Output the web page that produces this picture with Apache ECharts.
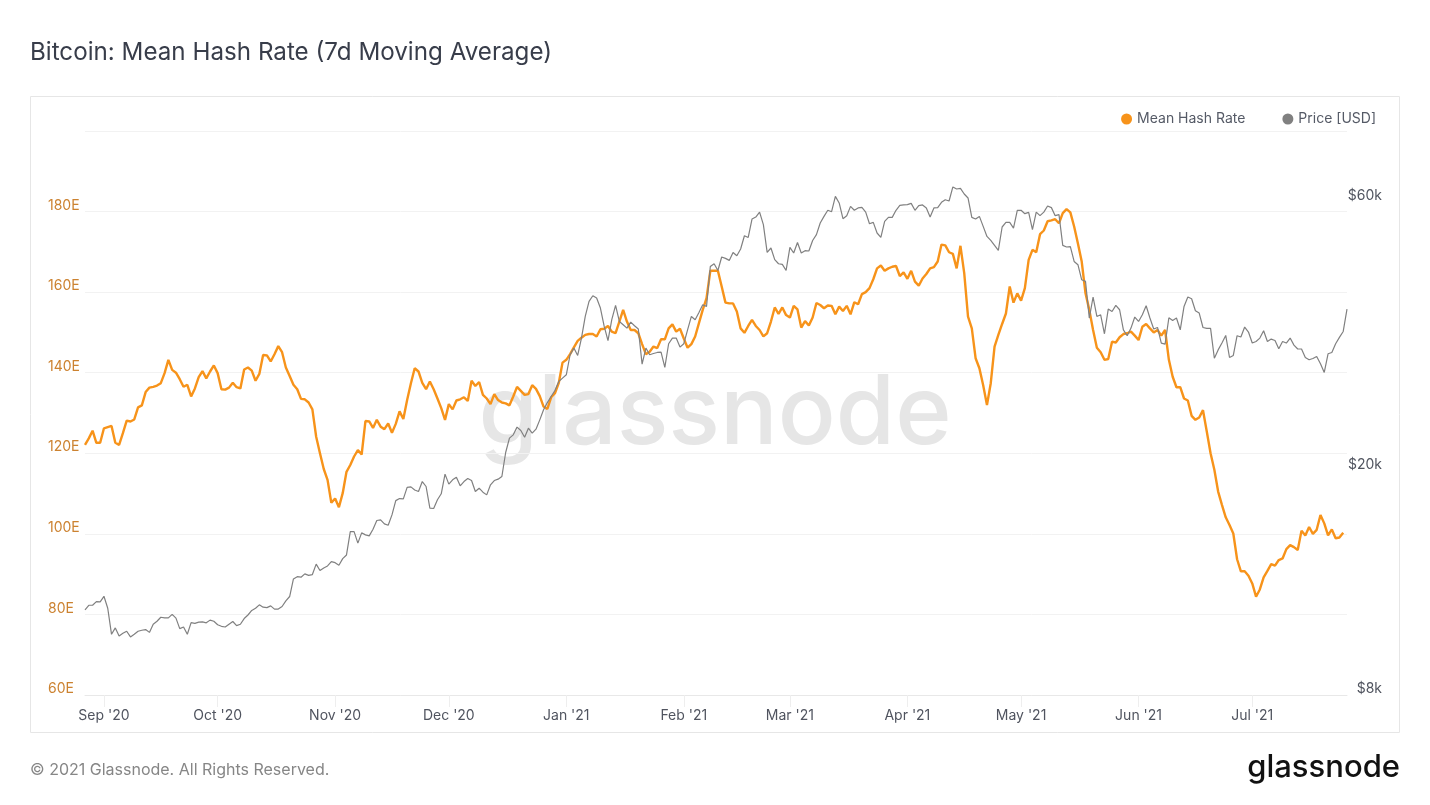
<!DOCTYPE html>
<html>
<head>
<meta charset="utf-8">
<title>Bitcoin: Mean Hash Rate (7d Moving Average)</title>
<script src="https://cdn.jsdelivr.net/npm/echarts@6/dist/echarts.min.js"></script>
<style>
  html, body { margin: 0; padding: 0; background: #fff; }
  #chart { width: 1430px; height: 805px; }
</style>
</head>
<body>
<div id="chart"></div>
<script>
// daily values, first point is startDate
const startDate = '2020-08-27';

const hashRate = [
  122.1,123.7,125.6,122.6,122.6,126.2,126.5,126.8,122.6,122.1,125.0,128.1,127.9,128.4,131.4,131.9,135.2,136.3,136.5,136.8,
  137.4,139.9,143.2,140.7,140.0,138.4,136.5,137.0,134.1,136.1,138.9,140.4,138.6,140.3,141.8,139.9,135.9,135.8,136.3,137.5,
  136.4,136.1,140.8,141.3,140.5,138.0,139.7,144.4,144.3,142.8,144.6,146.6,145.1,141.3,139.2,137.0,135.9,133.5,133.4,132.6,
  130.9,124.1,120.0,116.1,113.4,107.7,108.8,106.6,110.1,115.4,117.1,119.2,120.8,119.7,128.0,127.9,126.3,128.3,126.6,126.0,
  127.4,125.1,127.3,130.4,128.5,133.2,137.4,141.1,140.3,137.5,135.9,137.8,
  135.9,133.6,131.2,128.3,132.2,130.9,133.1,133.4,133.9,133.0,138.0,136.7,137.7,134.5,133.6,132.2,134.7,133.2,132.6,132.4,
  131.9,134.1,136.5,135.5,134.5,134.7,136.9,136.0,134.2,131.6,131.0,133.9,134.9,137.4,142.5,143.2,144.6,146.3,147.9,148.7,
  149.4,149.6,149.6,149.0,150.8,150.9,151.6,150.2,149.8,152.7,155.6,152.7,150.6,150.6,149.8,147.1,144.6,145.2,146.5,146.1,
  148.3,148.3,151.0,152.0,150.2,150.9,148.5,146.2,147.1,149.0,152.3,155.6,158.5,165.3,165.3,165.3,161.4,157.4,157.2,157.2,
  155.2,151.0,
  149.9,151.6,153.1,151.6,150.6,149.0,149.8,152.7,156.2,154.6,156.2,154.3,153.7,156.6,155.7,151.2,152.8,151.7,153.7,157.3,
  156.8,156.0,156.7,156.6,154.5,156.4,155.3,156.6,154.5,157.5,157.0,159.5,160.0,161.0,163.2,165.9,166.6,165.3,165.9,166.3,
  166.5,164.0,164.9,163.3,165.3,162.6,161.6,163.4,164.5,165.9,166.2,167.6,171.8,171.6,169.9,169.5,165.9,171.5,164.7,153.9,
  151.0,143.6,141.1,
  136.9,132.0,137.4,146.5,149.4,152.1,154.7,161.4,157.4,159.7,157.9,161.0,168.0,170.5,169.9,174.4,175.3,177.6,177.8,178.1,
  177.1,179.6,180.6,179.8,176.3,172.1,167.6,159.7,155.6,150.6,146.2,145.1,143.2,143.4,147.7,147.5,148.8,149.6,149.8,150.2,
  149.2,148.1,151.4,152.1,151.0,150.0,150.6,149.2,150.6,143.2,139.0,136.4,136.4,133.6,133.1,129.3,128.3,128.9,130.7,
  125.4,120.0,115.9,110.5,107.2,104.1,102.2,100.1,93.7,90.7,90.7,89.6,87.7,84.4,86.2,89.2,90.8,92.5,92.1,93.5,
  93.9,96.2,97.2,96.7,96.0,100.8,99.6,101.7,100.0,101.0,104.7,102.6,99.6,101.1,98.9,99.1,100.3
];

const priceUsd = [
  11320,11540,11540,11710,11700,11970,11400,10250,10520,10180,10290,10380,10140,10250,10380,10420,10450,10330,10680,10810,
  10990,10960,10960,11120,10950,10490,10560,10250,10750,10720,10770,10780,10740,10860,10810,10660,10590,10560,10680,10800,
  10620,10680,10930,11090,11300,11400,11560,11450,11430,11510,11360,11360,11480,11750,11960,12850,12970,12940,13120,13040,
  13080,13650,13300,13440,13550,13790,13730,13590,13960,14170,15590,15590,14870,15510,15380,15320,15740,16310,16350,16090,
  16000,16690,17690,17840,17820,18670,18710,18470,18360,19120,18740,17150,17130,17750,18190,19710,18920,19260,19470,18790,
  19120,19360,19200,18360,18610,18310,18110,18870,19200,19310,19520,21530,22830,23140,23880,23550,22920,23780,23300,23680,
  24600,25630,26400,27060,27730,28770,29170,29570,32090,32980,32000,34350,37520,39900,40830,40450,38830,36020,33990,37030,
  39250,36760,36270,35780,36670,36120,35640,30890,32980,32090,32260,32390,32440,30470,33560,34350,34350,33110,33560,35530,
  37520,37030,38140,39360,39090,46000,46530,45270,47830,47560,47170,48730,48080,49410,52170,51800,55850,56310,57460,54570,
  48730,49620,47310,46530,46400,45270,49740,48610,50760,48610,49070,49010,51170,52390,54950,56450,57880,57540,61260,59630,
  55930,56620,58810,57880,58440,58580,57460,54790,55080,52750,51800,55310,56220,56220,57880,59050,59150,59220,59530,57880,
  58980,59150,58440,56310,58440,58510,59780,60430,60110,63660,63140,63290,61860,60860,56220,55850,56450,54200,52020,51170,
  50150,49140,54060,55080,55080,53830,57880,57880,57080,57390,53460,57460,56620,57460,58910,58510,56620,56850,50150,49820,
  49880,46970,46350,43580,43290,37280,40620,37520,37780,34960,38670,38290,39250,38560,35530,34680,35780,37430,36760,37780,
  39200,37280,35640,35870,33660,33520,37320,36920,37280,35530,39090,40620,40340,38400,38040,35870,35730,35730,31630,32730,
  33660,34720,31730,32000,34680,34500,35930,35210,33660,33880,34350,35390,33880,34210,34020,32880,33880,33660,34350,33380,
  32850,32850,31730,31440,31600,31860,30930,29850,32220,32390,33560,34450,35290,38670
];

const monthTicks = ['2020-09-01','2020-10-01','2020-11-01','2020-12-01','2021-01-01','2021-02-01','2021-03-01','2021-04-01','2021-05-01','2021-06-01','2021-07-01'];
const monthLabels = ["Sep '20","Oct '20","Nov '20","Dec '20","Jan '21","Feb '21","Mar '21","Apr '21","May '21","Jun '21","Jul '21"];
const hashTicks = [60, 80, 100, 120, 140, 160, 180];
const priceTicks = [8000, 20000, 60000];

const DAY = 86400000;
const days = priceUsd.map((_, i) => new Date(new Date(startDate + 'T00:00:00Z').getTime() + i * DAY).toISOString().slice(0, 10));
const isMonthStart = (i, val) => monthTicks.includes(val);

const ORANGE = '#f7931a', GREY = '#808080', FONT = 'Inter, "Noto Sans", sans-serif';

const chart = echarts.init(document.getElementById('chart'), null, { renderer: 'canvas' });
chart.setOption({
  animation: false,
  backgroundColor: '#fff',
  textStyle: { fontFamily: FONT },
  title: {
    text: 'Bitcoin: Mean Hash Rate (7d Moving Average)',
    left: 25, top: 36,
    textStyle: { fontFamily: FONT, fontSize: 24.2, fontWeight: 400, color: '#383d4a' }
  },
  grid: { left: 85, right: 83, top: 131, bottom: 110 },
  legend: {
    data: ['Mean Hash Rate', 'Price [USD]'],
    right: 49, top: 107,
    icon: 'circle', itemWidth: 11, itemHeight: 11, itemGap: 37,
    textStyle: { fontFamily: FONT, fontSize: 14, color: '#555a66' }
  },
  xAxis: {
    type: 'category', data: days, boundaryGap: false,
    axisLine: { lineStyle: { color: '#e8e8e8' } },
    axisTick: { interval: isMonthStart, length: 12, lineStyle: { color: '#eeeeee' } },
    splitLine: { show: false },
    axisLabel: {
      interval: isMonthStart, margin: 14, fontSize: 14, color: '#50545f', fontFamily: FONT,
      formatter: v => monthLabels[monthTicks.indexOf(v)]
    }
  },
  yAxis: [
    {
      type: 'value', min: 60, max: 200, interval: 20,
      axisLine: { show: false }, axisTick: { show: false },
      splitLine: { lineStyle: { color: '#f2f2f2' } },
      axisLabel: {
        align: 'left', verticalAlign: 'bottom', margin: 37, padding: [0, 0, -1, 0], fontSize: 14, color: '#cc8230', fontFamily: FONT,
        formatter: v => hashTicks.includes(v) ? v + 'E' : ''
      }
    },
    {
      type: 'log', logBase: 10, min: 8000, max: 80000,
      axisLine: { show: false }, axisTick: { show: false }, splitLine: { show: false },
      axisLabel: {
        customValues: priceTicks,
        align: 'right', verticalAlign: 'bottom', margin: 35, padding: [0, 0, -1, 0], fontSize: 14, color: '#50545f', fontFamily: FONT,
        formatter: v => '$' + Math.round(v / 1000) + 'k'
      }
    }
  ],
  graphic: [
    { type: 'rect', z: -10, silent: true, shape: { x: 30.5, y: 96.5, width: 1369, height: 636 }, style: { fill: 'none', stroke: '#e6e6e6', lineWidth: 1 } },
    { type: 'text', z: -5, silent: true, x: 715, y: 415, style: { text: 'glassnode', fontFamily: FONT, fontSize: 96, fontWeight: 500, fill: '#e6e6e6', align: 'center', verticalAlign: 'middle' } },
    { type: 'text', silent: true, x: 30, y: 770, style: { text: '© 2021 Glassnode. All Rights Reserved.', fontFamily: FONT, fontSize: 16, fill: '#868686', align: 'left', verticalAlign: 'middle' } },
    { type: 'text', silent: true, x: 1400, y: 768, style: { text: 'glassnode', fontFamily: FONT, fontSize: 31, fontWeight: 500, fill: '#111111', align: 'right', verticalAlign: 'middle' } }
  ],
  series: [
    { name: 'Mean Hash Rate', type: 'line', yAxisIndex: 0, data: hashRate, symbol: 'none', itemStyle: { color: ORANGE }, lineStyle: { color: ORANGE, width: 2.4 }, z: 3 },
    { name: 'Price [USD]', type: 'line', yAxisIndex: 1, data: priceUsd, symbol: 'none', itemStyle: { color: GREY }, lineStyle: { color: GREY, width: 1.2 }, z: 4 }
  ]
});
</script>
</body>
</html>
